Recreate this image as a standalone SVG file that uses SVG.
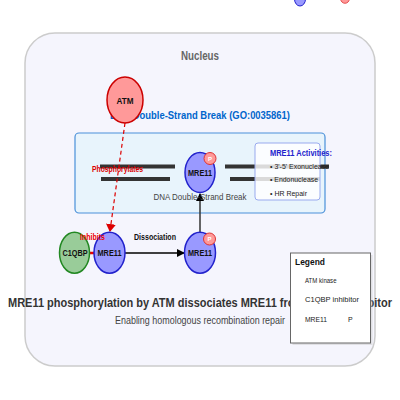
<svg xmlns="http://www.w3.org/2000/svg" width="400" height="400" viewBox="0 0 400 400">
<style>
text{font-family:"Liberation Sans",Arial,sans-serif}
.b{font-weight:bold}
.node-mre{fill:#9999ff;stroke:#2222cc;stroke-width:1.5}
.p{fill:#ff9999;stroke:#dd3333;stroke-width:1}
.pt{fill:#fff;font-size:6px;font-weight:bold;text-anchor:middle}
.lbl{font-size:9px;font-weight:bold;fill:#111;text-anchor:middle}
.strand{stroke:#333;stroke-width:4}
.act{font-size:8px;fill:#222}
.leg{font-size:7px;fill:#222}
</style>
<defs>
<marker id="ab" markerWidth="8" markerHeight="8" refX="7" refY="4" orient="auto" markerUnits="userSpaceOnUse"><path d="M0,0 L8,4 L0,8 Z" fill="#000"/></marker>
<marker id="ar" markerWidth="8" markerHeight="10" refX="7" refY="5" orient="auto" markerUnits="userSpaceOnUse"><path d="M0,0 L8,5 L0,10 Z" fill="#dd0000"/></marker>
</defs>
<g id="legend-stray">
<ellipse cx="300" cy="-1" rx="5.5" ry="7" fill="#9999ff" stroke="#2222cc"/>
<circle cx="345" cy="-1" r="4.3" fill="#ff9999" stroke="#dd3333" stroke-width="0.8"/>
</g>
<g id="nucleus">
<rect x="25" y="33" width="350" height="333" rx="30" fill="#f5f5fd" stroke="#cccccc" stroke-width="1.5"/>
<text x="200" y="60" class="b" font-size="12.5" fill="#666" text-anchor="middle" textLength="38" lengthAdjust="spacingAndGlyphs">Nucleus</text>
</g>
<g id="dsb">
<rect x="75" y="133" width="250" height="80" rx="4" fill="#e8f4fc" stroke="#4a90d9" stroke-width="1.2"/>
<text x="200" y="119" class="b" font-size="11" fill="#0066cc" text-anchor="middle" textLength="180" lengthAdjust="spacingAndGlyphs">DNA Double-Strand Break (GO:0035861)</text>
<line class="strand" x1="100" y1="166.5" x2="175" y2="166.5"/>
<line class="strand" x1="101" y1="179" x2="170" y2="179"/>
<line class="strand" x1="225" y1="166.5" x2="329" y2="166.5"/>
<line class="strand" x1="230" y1="179" x2="320" y2="179"/>
</g>
<g id="activities">
<rect x="255" y="143" width="65" height="57" rx="3" fill="#ffffff" fill-opacity="0.82" stroke="#99aaee" stroke-width="1"/>
<text x="270" y="156" class="b" font-size="9" fill="#2222cc" textLength="62" lengthAdjust="spacingAndGlyphs">MRE11 Activities:</text>
<text x="270" y="169" class="act" textLength="59" lengthAdjust="spacingAndGlyphs">• 3'-5' Exonuclease</text>
<text x="270" y="182" class="act" textLength="48" lengthAdjust="spacingAndGlyphs">• Endonuclease</text>
<text x="270" y="196" class="act" textLength="37" lengthAdjust="spacingAndGlyphs">• HR Repair</text>
</g>
<g id="connectors">
<line x1="125" y1="123" x2="110" y2="231" stroke="#dd0000" stroke-width="1.2" stroke-dasharray="4,3" marker-end="url(#ar)"/>
<line x1="90" y1="253" x2="95" y2="253" stroke="#ee0000" stroke-width="2.5"/>
<line x1="125" y1="253" x2="184" y2="253" stroke="#000" stroke-width="1.5" marker-end="url(#ab)"/>
<line x1="200" y1="233" x2="200" y2="194" stroke="#333" stroke-width="1.5" marker-end="url(#ab)"/>
</g>
<g id="mre11-dsb">
<ellipse class="node-mre" cx="200" cy="172.5" rx="15" ry="20"/>
<text x="200" y="176" class="lbl" textLength="24" lengthAdjust="spacingAndGlyphs">MRE11</text>
<circle class="p" cx="210" cy="158.5" r="6"/>
<text x="210" y="160.5" class="pt">P</text>
</g>
<g id="atm">
<ellipse cx="125" cy="100" rx="18" ry="23" fill="#ff9999" stroke="#cc0000" stroke-width="1.5"/>
<text x="125" y="103.5" class="lbl" textLength="17" lengthAdjust="spacingAndGlyphs">ATM</text>
</g>
<g id="c1qbp">
<ellipse cx="74.5" cy="252.7" rx="15" ry="20.5" fill="#99cc99" stroke="#228822" stroke-width="1.5"/>
<text x="75" y="256" class="lbl" textLength="25" lengthAdjust="spacingAndGlyphs">C1QBP</text>
</g>
<g id="mre11-bound">
<ellipse class="node-mre" cx="109.5" cy="252.7" rx="15.5" ry="20.5"/>
<text x="109.5" y="256" class="lbl" textLength="24" lengthAdjust="spacingAndGlyphs">MRE11</text>
</g>
<g id="mre11-free">
<ellipse class="node-mre" cx="200" cy="252.7" rx="15.5" ry="20.5"/>
<text x="200" y="256" class="lbl" textLength="24" lengthAdjust="spacingAndGlyphs">MRE11</text>
<circle class="p" cx="209.5" cy="239" r="6"/>
<text x="209.5" y="241" class="pt">P</text>
</g>
<g id="labels">
<text x="200" y="200" font-size="9.5" fill="#444" text-anchor="middle" textLength="93" lengthAdjust="spacingAndGlyphs">DNA Double-Strand Break</text>
<text x="117.5" y="172" class="b" font-size="8.5" fill="#dd0000" text-anchor="middle" textLength="51" lengthAdjust="spacingAndGlyphs">Phosphorylates</text>
<text x="92.5" y="240" class="b" font-size="8.5" fill="#ee0000" text-anchor="middle" textLength="25" lengthAdjust="spacingAndGlyphs">Inhibits</text>
<text x="155" y="240" class="b" font-size="8.5" fill="#111" text-anchor="middle" textLength="42" lengthAdjust="spacingAndGlyphs">Dissociation</text>
</g>
<g id="titles">
<text x="200" y="307" class="b" font-size="13" fill="#333" text-anchor="middle" textLength="384" lengthAdjust="spacingAndGlyphs">MRE11 phosphorylation by ATM dissociates MRE11 from C1QBP inhibitor</text>
<text x="200" y="324" font-size="10" fill="#444" text-anchor="middle" textLength="170" lengthAdjust="spacingAndGlyphs">Enabling homologous recombination repair</text>
</g>
<g id="legend">
<rect x="292.5" y="255" width="80" height="90" fill="#ccc" opacity="0.5"/>
<rect x="290.5" y="253" width="80" height="90" fill="#fff" stroke="#666" stroke-width="1"/>
<text x="295" y="265" class="b" font-size="8.5" fill="#111" textLength="30" lengthAdjust="spacingAndGlyphs">Legend</text>
<text x="305" y="282.5" class="leg" textLength="31.5" lengthAdjust="spacingAndGlyphs">ATM kinase</text>
<text x="305" y="302" class="leg" textLength="54" lengthAdjust="spacingAndGlyphs">C1QBP inhibitor</text>
<text x="305" y="321.5" class="leg" textLength="22" lengthAdjust="spacingAndGlyphs">MRE11</text>
<text x="348" y="321.5" class="leg">P</text>
</g>
</svg>
